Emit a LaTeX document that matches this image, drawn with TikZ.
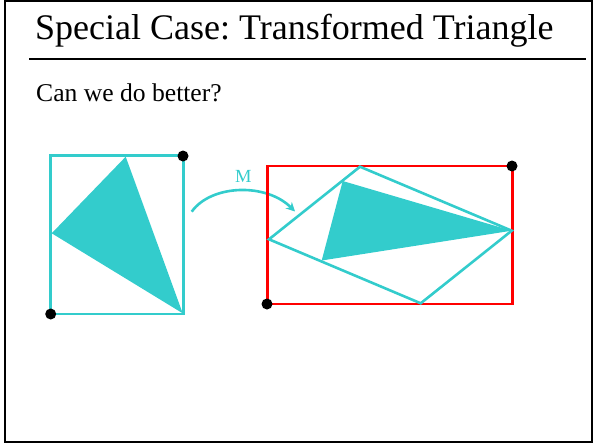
\documentclass[tikz,border=0pt]{standalone}
\usepackage{fontspec}
\setmainfont{Liberation Serif}
\frenchspacing
\usetikzlibrary{arrows.meta}
\definecolor{tcyan}{RGB}{51,204,204}
\definecolor{tred}{RGB}{255,0,0}
\begin{document}
\begin{tikzpicture}[x=1pt,y=-1pt,
  cyanline/.style={draw=tcyan,line width=2.6pt,line join=miter},
  redline/.style={draw=tred,line width=2.8pt},
  cyanfill/.style={fill=tcyan},
  vertexdot/.style={circle,fill=black,inner sep=0pt,minimum size=11pt},
  framebox/.style={draw=black,line width=2pt}]
\useasboundingbox (0,0) rectangle (594,444);
\draw[framebox] (5,1.5) rectangle (592,441.5);
% title
\node[anchor=base west,inner sep=0pt,font=\fontsize{36}{40}\selectfont] (title) at (35,40) {Special Case: Transformed Triangle};
\draw[line width=2pt] (29,59) -- (586,59);
\node[anchor=base west,inner sep=0pt,font=\fontsize{25.6}{30}\selectfont] (question) at (36,101) {Can we do better?};
% left figure
\fill[cyanfill] (125.7,156.7) -- (51.7,233.3) -- (182.7,313.3) -- cycle;
\draw[cyanline] (50.7,155.7) rectangle (183.3,314);
\node[vertexdot] (lt) at (183,156) {};
\node[vertexdot] (lb) at (50.7,314) {};
% arrow M
\coordinate (mstart) at (191.7,211.7);
\coordinate (mend) at (295,211.5);
\draw[draw=tcyan,line width=2.6pt,-{Stealth[length=9pt,width=9pt]}] (mstart) .. controls (211,184.5) and (266,182.5) .. (mend);
\node[text=tcyan,font=\fontsize{18.5}{20}\selectfont,inner sep=0pt] (mlabel) at (243.3,176.5) {M};
% right figure
\fill[cyanfill] (342.7,181) -- (321.7,260.5) -- (511.7,230.7) -- cycle;
\draw[redline] (267.7,166) rectangle (512.7,304);
\draw[cyanline] (360,166.7) -- (511.7,230.7) -- (420.7,303.3) -- (269,239.3) -- cycle;
\node[vertexdot] (rt) at (512,166) {};
\node[vertexdot] (rb) at (267,304) {};
\end{tikzpicture}
\end{document}
